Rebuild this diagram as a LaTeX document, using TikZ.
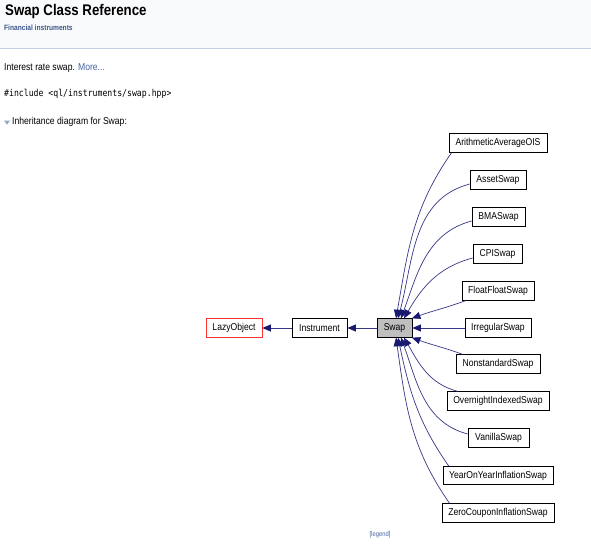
\documentclass[tikz,border=0pt]{standalone}
\usepackage{fontspec}
\setmainfont[FakeStretch=0.86]{Liberation Sans}
\newfontfamily\monof[FakeStretch=0.86]{DejaVu Sans Mono}
\usetikzlibrary{arrows.meta}
\definecolor{hdrbg}{HTML}{F9FAFC}
\definecolor{hdrline}{HTML}{C4CFE5}
\definecolor{grpcol}{HTML}{3D578C}
\definecolor{linkcol}{HTML}{4665A2}
\definecolor{tricol}{HTML}{97A4C7}
\definecolor{edgecol}{RGB}{55,55,135}
\definecolor{tipcol}{HTML}{191970}
\definecolor{swapfill}{HTML}{BFBFBF}
\definecolor{lazyred}{HTML}{FF3030}
\tikzset{
  cls/.style={draw=black, fill=white, line width=0.8pt, minimum height=18.5pt,
    inner sep=0pt, font=\fontsize{10}{12}\selectfont},
  edge/.style={draw=edgecol, line width=0.7pt,
    -{Triangle[length=8.5pt,width=7pt,color=tipcol]}},
  txt/.style={anchor=base west, inner sep=0pt}
}
\begin{document}
\begin{tikzpicture}[x=1pt,y=1pt]
\useasboundingbox (0,0) rectangle (591,-554);
\fill[white] (0,0) rectangle (591,-554);
% header
\fill[hdrbg] (0,0) rectangle (591,-48);
\draw[hdrline, line width=1pt] (0,-48) -- (591,-48);
\node[txt] (title) at (5,-15.5) {\fontsize{15.4}{18}\selectfont\bfseries Swap Class Reference};
\node[txt, text=grpcol] (grp) at (4,-30.5) {\fontsize{7.7}{9}\selectfont\bfseries Financial instruments};
\node[txt] (brief) at (4,-70.7) {\fontsize{10}{12}\selectfont Interest rate swap. \textcolor{linkcol}{More...}};
\node[txt] (inc) at (4,-96) {\monof\fontsize{9.5}{11}\selectfont\#include <ql/instruments/swap.hpp>};
\fill[tricol] (4,-120.5) -- (10,-120.5) -- (7,-124.5) -- cycle;
\node[txt] (inh) at (12,-124) {\fontsize{10}{12}\selectfont Inheritance diagram for Swap:};
\node[inner sep=0pt, text=linkcol] (legend) at (380,-535) {\fontsize{6.8}{8}\selectfont [legend]};
% class nodes
\node[cls, draw=lazyred, minimum width=56pt] (lazy) at (234,-328) {LazyObject};
\node[cls, minimum width=55pt] (inst) at (319.5,-328) {Instrument};
\node[cls, fill=swapfill, minimum width=35pt] (swap) at (394.5,-328) {Swap};
\node[cls, minimum width=98pt] (aaois) at (498,-143) {ArithmeticAverageOIS};
\node[cls, minimum width=56pt] (asset) at (498,-180) {AssetSwap};
\node[cls, minimum width=53pt] (bma) at (498.5,-217) {BMASwap};
\node[cls, minimum width=49pt] (cpi) at (497.5,-254) {CPISwap};
\node[cls, minimum width=72pt] (ffs) at (498,-291) {FloatFloatSwap};
\node[cls, minimum width=66pt] (irr) at (498,-328) {IrregularSwap};
\node[cls, minimum width=84pt] (nss) at (498,-364) {NonstandardSwap};
\node[cls, minimum width=102pt] (ois) at (498,-401) {OvernightIndexedSwap};
\node[cls, minimum width=61pt] (van) at (498.5,-438) {VanillaSwap};
\node[cls, minimum width=110pt] (yoy) at (498,-475.5) {YearOnYearInflationSwap};
\node[cls, minimum width=112pt] (zc) at (498,-513) {ZeroCouponInflationSwap};
% edges
\draw[edge] (inst.west) -- (lazy.east);
\draw[edge] (swap.west) -- (inst.east);
\draw[edge] ([xshift=3pt]aaois.south west) to[out=235,in=80] ([xshift=1.5pt]swap.north);
\draw[edge] ([yshift=-4pt]asset.west) to[out=195,in=75] ([xshift=3.5pt]swap.north);
\draw[edge] ([yshift=-4pt]bma.west) to[out=195,in=70] ([xshift=6.5pt]swap.north);
\draw[edge] ([yshift=-4pt]cpi.west) to[out=195,in=60] ([xshift=9.5pt]swap.north);
\draw[edge] ([xshift=4pt]ffs.south west) to[out=200,in=20] ([xshift=-0.5pt]swap.north east);
\draw[edge] (irr.west) -- (swap.east);
\draw[edge] ([xshift=7pt]nss.north west) to[out=160,in=-20] ([xshift=-0.5pt]swap.south east);
\draw[edge] ([xshift=11pt]ois.north west) to[out=165,in=-60] ([xshift=9.5pt]swap.south);
\draw[edge] ([yshift=4pt]van.west) to[out=165,in=-70] ([xshift=6.5pt]swap.south);
\draw[edge] ([xshift=6pt]yoy.north west) to[out=125,in=-78] ([xshift=3.5pt]swap.south);
\draw[edge] ([xshift=8pt]zc.north west) to[out=125,in=-82] ([xshift=1.5pt]swap.south);
\end{tikzpicture}
\end{document}
